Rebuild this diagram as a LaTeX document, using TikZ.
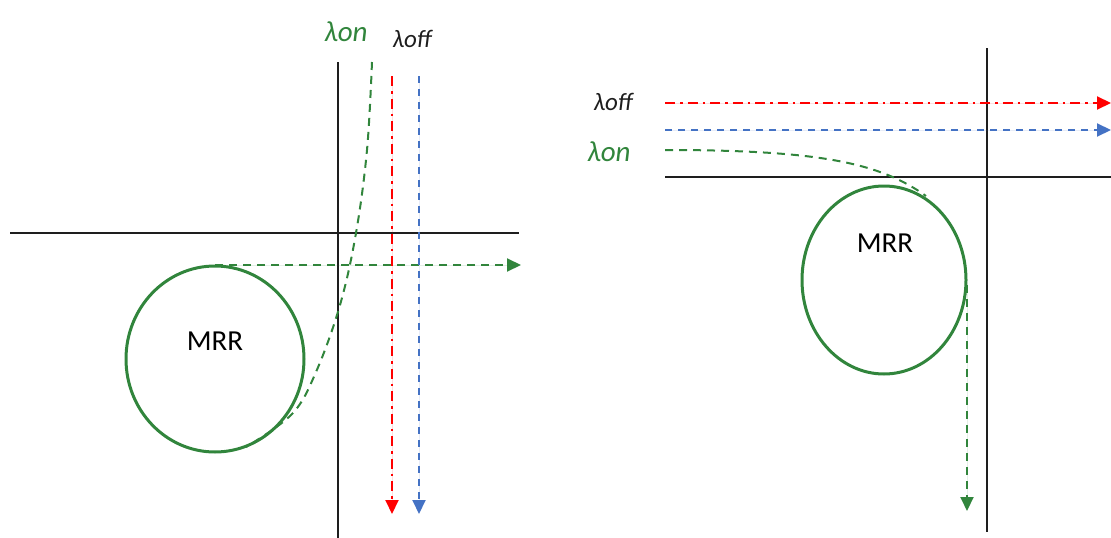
\documentclass[tikz,border=0pt]{standalone}
\usepackage{fontspec}
\setmainfont{Carlito}
\usetikzlibrary{arrows.meta,shapes.geometric}
\definecolor{mrrgreen}{RGB}{49,133,60}
\definecolor{offblue}{RGB}{68,114,196}
\definecolor{offred}{RGB}{255,0,0}
\definecolor{axisgray}{RGB}{30,30,30}
\tikzset{
  axis/.style={draw=axisgray,line width=2.4pt},
  ring/.style={draw=mrrgreen,line width=3pt,ellipse,inner sep=0pt,outer sep=0pt},
  greenpath/.style={draw=mrrgreen,line width=2pt,dash pattern=on 8pt off 6pt},
  redpath/.style={draw=offred,line width=2pt,dash pattern=on 10pt off 5pt on 2.5pt off 5pt},
  bluepath/.style={draw=offblue,line width=2pt,dash pattern=on 7pt off 6pt},
  tip/.style={-{Triangle[length=14pt,width=13pt]}},
  lamon/.style={text=mrrgreen,font=\fontsize{29}{31}\selectfont\itshape,inner sep=0pt},
  lamoff/.style={text=axisgray,font=\fontsize{25}{27}\selectfont\itshape,inner sep=0pt},
  mrrlabel/.style={text=black,font=\fontsize{29}{31}\selectfont,inner sep=0pt}
}
\begin{document}
\begin{tikzpicture}[x=1pt,y=-1pt]
\useasboundingbox (0,0) rectangle (1111,538);
% ---------------- left diagram ----------------
\coordinate (LVt) at (338,62);
\coordinate (LVb) at (338,538);
\coordinate (LHl) at (10,233);
\coordinate (LHr) at (519,233);
\draw[axis] (LVt) -- (LVb);
\draw[axis] (LHl) -- (LHr);
\node[ring,minimum width=178pt,minimum height=186pt] (Lmrr) at (215,359) {};
\node[mrrlabel] (Lmrrtxt) at (215,341) {MRR};
\coordinate (LGs) at (215,265);
\coordinate (LGe) at (521,265);
\draw[greenpath,tip,fill=mrrgreen] (LGs) -- (LGe);
\coordinate (LCs) at (372,62);
\coordinate (LCe) at (246,447);
\draw[greenpath] plot[smooth,tension=0.6] coordinates {(LCs) (367,150) (356,233) (340,305) (316,372) (292,414) (LCe)};
\coordinate (LRs) at (392,76);
\coordinate (LRe) at (392,514);
\coordinate (LBs) at (419,76);
\coordinate (LBe) at (419,514);
\draw[redpath,tip,fill=offred] (LRs) -- (LRe);
\draw[bluepath,tip,fill=offblue] (LBs) -- (LBe);
\node[lamon] (Lon) at (346,32) {λon};
\node[lamoff] (Loff) at (412,39) {λoff};
% ---------------- right diagram ----------------
\coordinate (RVt) at (987,48);
\coordinate (RVb) at (987,532);
\coordinate (RHl) at (665,177);
\coordinate (RHr) at (1111,177);
\draw[axis] (RVt) -- (RVb);
\draw[axis] (RHl) -- (RHr);
\node[ring,minimum width=164pt,minimum height=188pt] (Rmrr) at (884,280) {};
\node[mrrlabel] (Rmrrtxt) at (885,243) {MRR};
\coordinate (RRs) at (665,103);
\coordinate (RRe) at (1111,103);
\coordinate (RBs) at (665,130);
\coordinate (RBe) at (1111,130);
\draw[redpath,tip,fill=offred] (RRs) -- (RRe);
\draw[bluepath,tip,fill=offblue] (RBs) -- (RBe);
\coordinate (RCs) at (665,150);
\coordinate (RCe) at (926,196);
\draw[greenpath] (RCs) .. controls (820,150) and (880,163) .. (RCe);
\coordinate (RGs) at (967,285);
\coordinate (RGe) at (967,511);
\draw[greenpath,tip,fill=mrrgreen] (RGs) -- (RGe);
\node[lamoff] (Roff) at (613,102) {λoff};
\node[lamon] (Ron) at (609,152) {λon};
\end{tikzpicture}
\end{document}
